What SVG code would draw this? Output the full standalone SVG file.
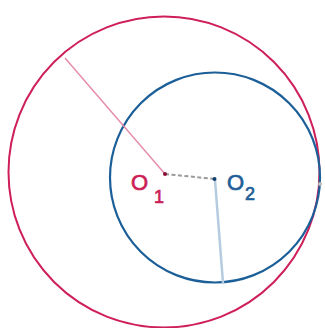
<svg xmlns="http://www.w3.org/2000/svg" width="325" height="328" viewBox="0 0 325 328">
<style>
.big{fill:none;stroke:#cf1f5a;stroke-width:2}
.small{fill:none;stroke:#1c5f98;stroke-width:2.2}
.rr{stroke:#e58aac;stroke-width:1.4}
.rb{stroke:#b5cbe0;stroke-width:2.5}
.dash{stroke:#9a9a9a;stroke-width:2;stroke-dasharray:4 2.5}
.lr{fill:#cc1f55;stroke:#cc1f55;stroke-width:0.7;font-family:"Liberation Sans",Arial,sans-serif}
.lb{fill:#1f5f99;stroke:#1f5f99;stroke-width:0.7;font-family:"Liberation Sans",Arial,sans-serif}
</style>
<rect width="325" height="328" fill="#fff"/>
<g id="circle1"><circle class="big" cx="164" cy="172" r="155.5"/></g>
<g id="circle2"><circle class="small" cx="215" cy="177.5" r="105"/></g>
<g id="connectors">
<line class="rr" x1="65" y1="58" x2="165" y2="174"/>
<line class="rb" x1="215" y1="180" x2="223" y2="283"/>
<line class="dash" x1="165" y1="174" x2="214.5" y2="179"/>
</g>
<g id="O1">
<circle cx="165" cy="174" r="2" fill="#8a0f35"/>
<text class="lr" x="131" y="190" font-size="22">O</text>
<text class="lr" x="154" y="203" font-size="18">1</text>
</g>
<g id="O2">
<circle cx="214.5" cy="179" r="2" fill="#0f3f6f"/>
<text class="lb" x="227" y="190" font-size="22">O</text>
<text class="lb" x="245" y="200" font-size="18">2</text>
</g>
<g id="tangent"><circle cx="320" cy="184" r="2" fill="#bbbbbb"/></g>
</svg>
